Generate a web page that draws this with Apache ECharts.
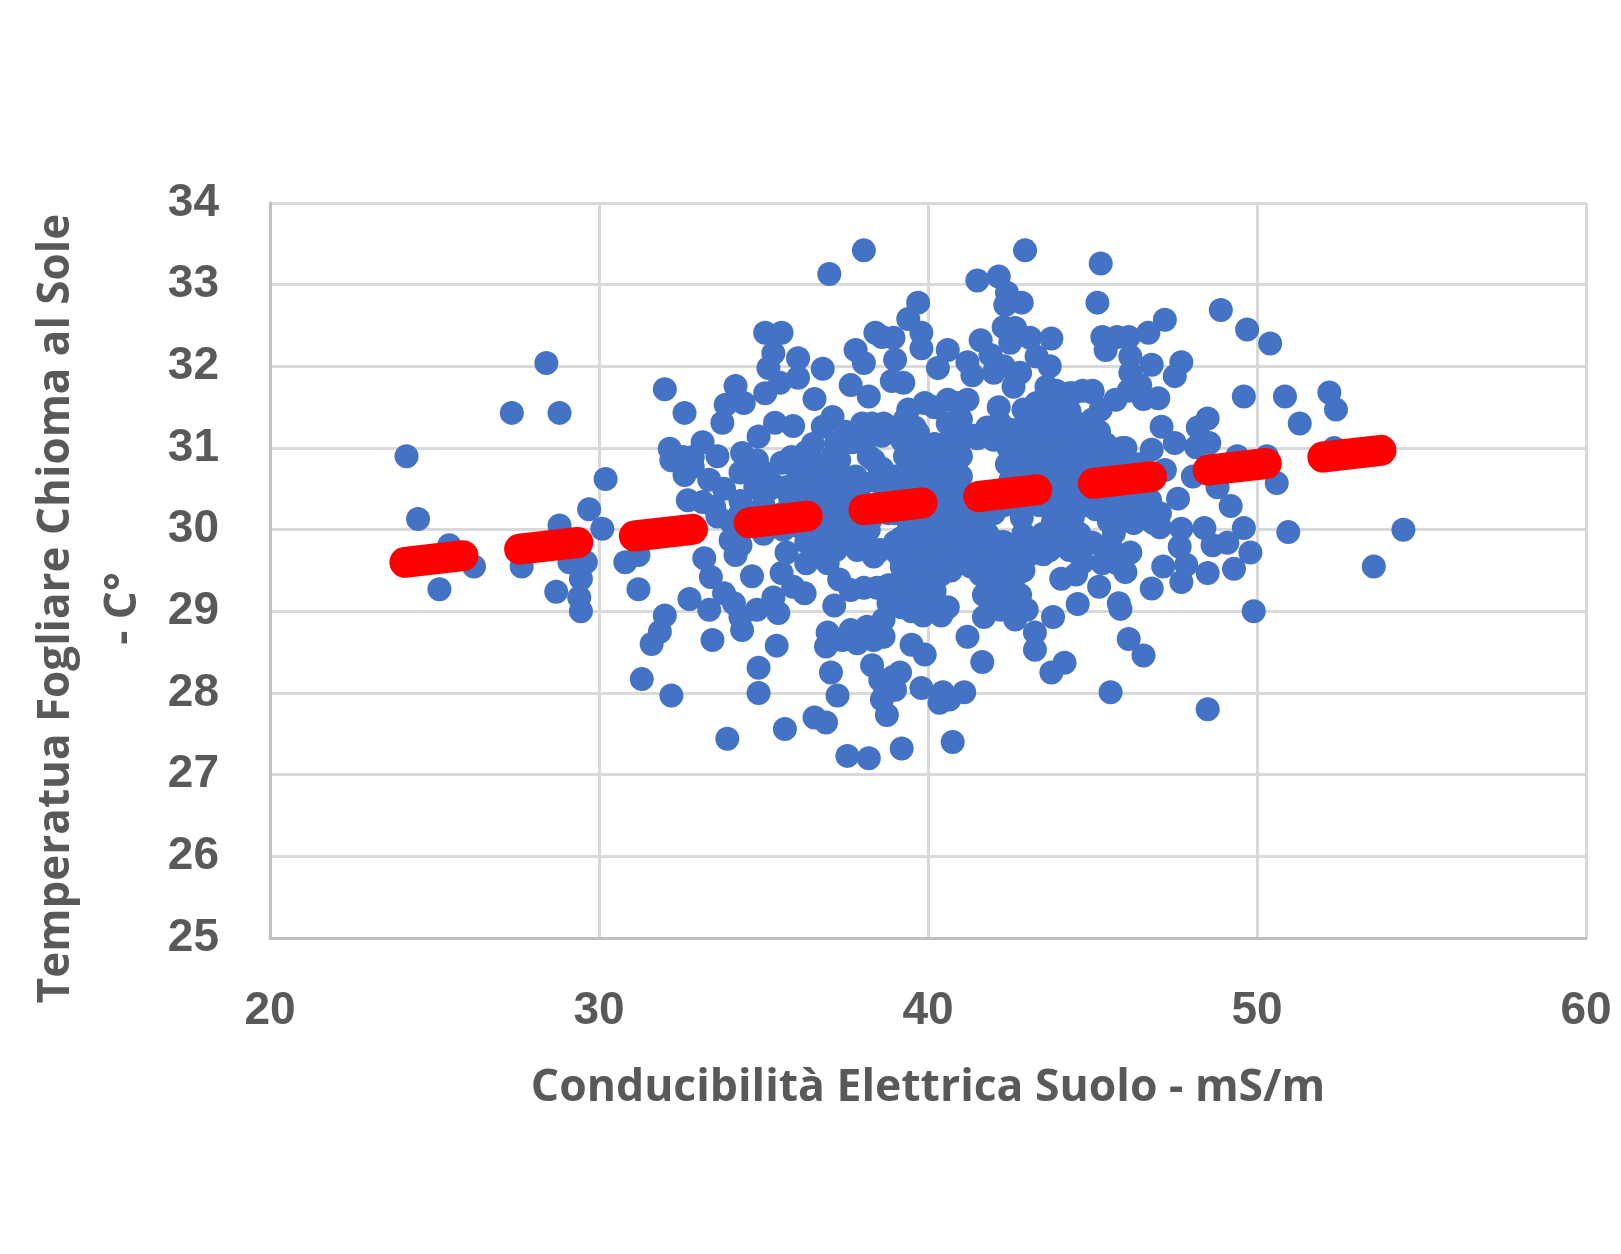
<!DOCTYPE html>
<html>
<head>
<meta charset="utf-8">
<style>html,body{margin:0;padding:0;background:#fff}#c{width:1621px;height:1254px}</style>
<script src="https://cdn.jsdelivr.net/npm/echarts@6/dist/echarts.min.js"></script>
</head>
<body>
<div id="c"></div>
<script>
const xTitle = 'Conducibilità Elettrica Suolo - mS/m';
const yTitle = 'Temperatua Fogliare Chioma al Sole\n- C°';
const trendX = [24.1, 53.95];
const trendY = [29.6, 30.98];

const leftPoints = [[24.15,30.9],[24.5,30.13],[25.45,29.81],[26.2,29.55],[25.15,29.27],[27.35,31.43],[28.4,32.04],[28.8,31.43],[27.65,29.55],[28.8,30.05],[29.7,30.25],[30.1,30.01],[30.2,30.62],[29.1,29.6],[29.6,29.6],[29.45,29.4],[28.7,29.24],[29.4,29.17],[29.45,29.0],[30.8,29.6],[31.2,29.69],[31.2,29.27]];

const upperLeftPoints = [[32.0,31.72],[32.6,31.43],[35.05,32.41],[35.55,32.41],[35.3,32.16],[35.15,31.98],[36.05,32.1],[36.05,31.86],[36.8,31.97],[35.05,31.67],[35.5,31.8],[36.55,31.6],[37.1,31.38],[36.8,31.26],[35.35,31.31],[35.9,31.27],[34.85,31.14],[34.15,31.76],[34.4,31.55],[33.85,31.53],[33.75,31.31],[33.15,31.07],[32.15,30.99],[33.6,30.9],[32.2,30.85],[32.55,30.89],[32.85,30.89],[32.6,30.67],[32.85,30.77],[33.35,30.61],[32.7,30.36],[33.15,30.34],[33.5,30.28],[33.6,30.16],[34.35,30.94],[34.3,30.7],[34.8,30.85],[34.75,30.52],[35.55,30.82],[35.85,30.89],[35.7,30.52],[36.05,30.52],[36.55,30.82],[37.1,30.89],[37.7,31.07],[37.8,32.2],[38.05,32.04],[37.65,31.77],[38.2,31.63],[38.4,32.41],[38.6,32.36],[38.65,31.3],[37.0,33.13],[38.05,33.42]];

const upperMiddlePoints = [[42.95,33.42],[45.25,33.26],[45.15,32.78],[41.5,33.05],[42.15,33.1],[42.4,32.9],[42.85,32.78],[42.35,32.75],[39.7,32.78],[39.4,32.58],[39.8,32.41],[39.8,32.22],[40.6,32.2],[40.3,31.98],[41.6,32.32],[41.9,32.14],[41.2,32.05],[41.35,31.89],[42.3,32.48],[42.65,32.47],[42.5,32.29],[43.1,32.35],[43.75,32.34],[43.3,32.12],[43.7,32.0],[42.3,32.0],[42.8,31.92],[42.6,31.75],[42.0,31.92],[43.6,31.75],[44.4,31.67],[45.0,31.68],[42.15,31.5],[42.9,31.47],[42.55,31.22],[42.45,31.0],[38.95,32.35],[39.0,32.08],[39.25,31.8],[38.9,31.82],[39.4,31.47],[39.7,31.18],[40.6,31.59],[41.2,31.59],[40.75,31.26],[41.5,31.12],[40.75,30.94],[39.55,30.89],[43.9,31.26],[44.3,31.06],[45.15,31.14],[43.5,31.06],[42.9,30.89],[45.9,31.0],[43.9,31.7],[44.7,31.7]];

const upperRightPoints = [[47.2,32.57],[48.9,32.69],[49.7,32.45],[50.4,32.28],[45.3,32.36],[45.75,32.36],[46.1,32.36],[46.7,32.41],[45.4,32.2],[46.15,32.12],[46.8,32.02],[47.7,32.05],[47.5,31.88],[46.15,31.92],[46.45,31.77],[46.1,31.7],[47.0,31.61],[46.55,31.6],[45.7,31.59],[45.25,31.47],[44.3,31.67],[45.0,31.7],[49.6,31.63],[50.85,31.63],[51.3,31.3],[52.2,31.68],[52.4,31.47],[52.35,31.0],[48.5,31.36],[47.1,31.26],[47.5,31.06],[48.2,31.25],[48.55,31.06],[48.15,31.01],[48.05,30.65],[49.4,30.9],[50.3,30.9],[50.6,30.57],[48.8,30.52],[49.2,30.29],[46.0,31.0],[46.8,30.98],[47.2,30.73],[47.6,30.38],[50.95,29.97],[49.6,30.02],[48.4,30.02],[47.7,30.01],[47.05,30.03],[46.35,30.24],[45.95,30.33],[46.75,30.36],[47.05,30.2],[44.4,31.34],[44.9,31.26],[45.2,31.2]];

const lowerRightPoints = [[49.8,29.72],[49.1,29.84],[48.65,29.81],[49.3,29.52],[48.5,29.47],[47.65,29.79],[47.7,29.36],[47.15,29.55],[47.85,29.57],[46.8,29.28],[49.9,29.0],[45.8,29.1],[45.85,29.03],[46.1,28.66],[46.55,28.46],[45.55,28.01],[48.5,27.8],[46.15,29.72],[46.0,29.48],[45.65,29.96],[46.25,30.08],[46.85,30.08],[45.2,29.3],[45.3,29.59],[45.75,29.59],[45.0,29.84],[45.55,29.79],[53.55,29.55],[54.45,30.0],[44.05,29.4],[44.55,29.09]];

const lowerMiddlePoints = [[43.25,28.53],[43.25,28.74],[43.8,28.93],[42.65,28.9],[43.0,29.02],[41.7,28.93],[42.2,29.02],[42.5,29.14],[41.2,28.69],[41.65,28.38],[43.75,28.25],[44.15,28.37],[39.9,28.47],[39.5,28.59],[39.8,28.06],[40.45,28.01],[41.1,28.01],[40.35,27.88],[40.65,27.92],[38.95,28.2],[39.15,28.25],[38.6,27.92],[39.0,28.04],[40.75,27.4],[39.2,27.32]];

const lowerLeftPoints = [[33.9,27.44],[32.2,27.97],[35.65,27.56],[34.85,28.31],[34.85,28.0],[35.4,28.58],[33.45,28.65],[32.0,28.95],[31.85,28.75],[31.6,28.6],[31.3,28.17],[36.55,27.7],[36.9,27.64],[37.55,27.23],[38.2,27.2],[37.05,28.25],[37.25,27.97],[38.3,28.34],[38.55,28.16],[38.7,28.0],[38.75,27.73],[37.15,29.07],[36.95,28.74],[36.9,28.57],[37.4,28.65],[37.85,28.61],[38.35,28.65],[38.65,28.69],[37.65,28.77],[38.15,28.81],[38.65,28.9],[32.75,29.15],[33.2,29.65],[33.4,29.42],[33.8,29.22],[33.35,29.02],[34.1,29.1],[34.35,28.77],[34.3,28.93],[34.8,29.02],[35.3,29.17],[35.45,28.98],[34.65,29.43],[34.15,29.69],[34.3,29.81],[34.0,29.87],[35.55,29.47],[35.9,29.3],[36.25,29.22],[35.7,29.72],[36.3,29.59],[36.6,29.79],[37.65,29.26],[38.05,29.29],[38.45,29.29],[37.3,29.39],[36.95,29.59],[37.2,29.75],[37.85,29.75],[38.55,29.75],[38.35,29.67],[38.8,29.32],[38.8,29.1]];

const cloudPoints = [[37.5,31.2],[38.3,31.3],[38.9,31.25],[39.3,31.35],[40.6,31.3],[41.0,31.35],[42.2,31.3],[43.0,31.35],[43.6,31.4],[44.1,31.3],[45.0,31.35],
[37.2,31.05],[38.1,31.1],[38.6,31.15],[39.2,31.1],[39.7,31.0],[40.5,31.05],[41.0,31.1],[41.4,31.15],[42.0,31.1],[42.9,31.1],[43.4,31.15],[44.0,31.1],[44.7,31.1],[45.4,31.05],
[36.3,30.95],[36.9,30.7],[37.3,30.85],[38.2,30.9],[39.3,30.9],[39.7,30.75],[40.3,30.85],[40.85,30.75],[42.7,30.9],[43.2,30.85],[43.8,30.9],[44.2,30.8],[44.8,30.9],[45.4,30.85],[45.9,30.8],
[36.4,30.7],[37.8,30.65],[38.4,30.6],[39.0,30.65],[40.2,30.6],[40.7,30.55],[42.5,30.6],[43.1,30.6],[43.7,30.7],[44.3,30.55],[44.8,30.7],[45.3,30.6],[45.9,30.6],[46.4,30.8],[46.5,30.5],
[35.0,30.3],[35.8,30.4],[36.4,30.3],[37.0,30.35],[37.6,30.4],[38.1,30.3],[38.7,30.4],[39.2,30.35],[39.8,30.4],[40.3,30.3],[40.8,30.35],[41.3,30.4],[41.8,30.25],[42.5,30.4],[43.0,30.35],[43.6,30.3],[44.2,30.4],[44.8,30.3],[45.3,30.35],[45.9,30.2],
[34.0,30.1],[34.6,30.15],[35.3,30.1],[36.0,30.05],[36.6,30.1],[37.1,30.15],[37.7,30.1],[38.3,30.15],[38.8,30.2],[39.4,30.1],[40.0,30.15],[40.5,30.05],[41.0,30.15],[41.6,30.05],[42.0,30.2],[42.85,30.15],[43.8,30.1],[44.4,30.15],[45.5,30.1],[44.6,29.95],
[36.9,29.9],[37.4,29.95],[38.0,29.9],[39.2,29.9],[39.7,29.85],[40.3,29.9],[40.9,29.85],[41.5,29.9],[42.1,29.85],[42.7,29.8],[43.3,29.85],[43.9,29.9],[44.5,29.8],
[39.1,29.7],[39.6,29.65],[40.2,29.7],[40.7,29.65],[41.2,29.7],[41.8,29.65],[42.3,29.7],[42.9,29.65],[43.5,29.7],[44.7,29.6],
[39.4,29.45],[39.9,29.4],[40.4,29.45],[41.6,29.45],[42.2,29.4],[42.7,29.45],[44.5,29.45],
[39.3,29.2],[39.8,29.15],[40.2,29.25],[41.7,29.2],[42.3,29.25],[42.8,29.2],[39.5,29.0],[40.1,29.0],[40.4,28.95]];

const denseCorePoints = [[40.2,31.5],[40.9,31.55],[43.3,31.55],[43.9,31.5],[44.3,31.45],[39.9,31.55],
[38.0,31.3],[39.6,31.25],[41.8,31.25],[43.3,31.3],[43.8,31.2],[44.5,31.2],
[36.5,31.05],[38.35,30.85],[39.95,30.9],[40.2,31.05],[41.0,30.9],[42.6,30.75],[43.5,30.95],[44.5,30.95],[45.1,30.95],[45.6,30.95],
[35.3,30.55],[35.0,30.7],[36.0,30.75],[36.7,30.5],[37.3,30.6],[37.9,30.5],[38.6,30.75],[39.4,30.7],[40.0,30.7],[40.5,30.75],[41.0,30.65],[42.4,30.8],[42.9,30.7],[43.4,30.7],[44.0,30.65],[44.5,30.75],[45.1,30.75],[45.6,30.7],[46.1,30.7],
[33.8,30.5],[34.3,30.35],[35.2,30.5],[36.2,30.45],[37.3,30.5],[38.9,30.5],[39.5,30.5],[40.0,30.5],[40.5,30.45],[41.0,30.45],[42.3,30.45],[42.8,30.5],[43.4,30.45],[43.9,30.5],[44.6,30.5],[45.1,30.5],[45.6,30.45],[46.2,30.4],
[34.3,30.2],[34.9,30.05],[35.6,30.2],[36.2,30.2],[36.8,30.25],[37.4,30.25],[37.9,30.2],[38.5,30.3],[39.0,30.2],[39.6,30.25],[40.1,30.25],[40.6,30.2],[41.1,30.25],[41.5,30.25],[42.3,30.3],[42.9,30.3],[43.4,30.3],[44.0,30.25],[44.5,30.25],[45.1,30.25],[45.6,30.25],
[35.0,29.95],[35.6,30.0],[36.3,29.85],[37.0,30.0],[37.6,29.9],[38.2,30.0],[39.5,30.0],[40.1,30.0],[40.6,29.95],[41.2,30.0],[41.8,29.95],[42.3,29.85],[42.9,29.95],[43.5,29.95],[44.1,30.0],
[39.0,29.85],[39.4,29.8],[39.9,29.75],[40.5,29.75],[41.0,29.75],[41.5,29.75],[42.0,29.75],[42.5,29.6],[43.1,29.7],[43.7,29.75],[44.3,29.75],
[39.2,29.55],[39.7,29.5],[40.2,29.5],[40.7,29.5],[41.3,29.55],[41.9,29.5],[42.4,29.5],[42.9,29.5],
[39.1,29.35],[39.6,29.3],[40.1,29.35],[41.9,29.3],[42.5,29.3],[39.2,29.05],[39.85,28.95],[40.6,29.05],[42.0,29.1]];

const points = [].concat(leftPoints, upperLeftPoints, upperMiddlePoints, upperRightPoints, lowerRightPoints, lowerMiddlePoints, lowerLeftPoints, cloudPoints, denseCorePoints);

const textColor = '#595959';
const chart = echarts.init(document.getElementById('c'), null, {renderer:'canvas'});
chart.setOption({
  animation:false,
  backgroundColor:'#fff',
  grid:{left:270,right:35,top:203,height:735,containLabel:false},
  xAxis:{type:'value',min:20,max:60,interval:10,
    name:xTitle,nameLocation:'middle',nameGap:128,
    nameTextStyle:{fontFamily:'Open Sans',fontWeight:'bold',fontSize:44.5,color:textColor},
    axisLine:{show:true,onZero:false,lineStyle:{color:'#BFBFBF',width:3}},
    axisTick:{show:false},
    axisLabel:{margin:50,fontFamily:'Liberation Sans',fontWeight:'bold',fontSize:46,color:textColor},
    splitLine:{show:true,lineStyle:{color:'#D9D9D9',width:3}}},
  yAxis:{type:'value',min:25,max:34,interval:1,
    name:yTitle,nameLocation:'middle',nameGap:106,
    nameTextStyle:{fontFamily:'Open Sans',fontWeight:'bold',fontSize:44,lineHeight:67,color:textColor,padding:[0,76,0,0]},
    axisLine:{show:true,onZero:false,lineStyle:{color:'#BFBFBF',width:3}},
    axisTick:{show:false},
    axisLabel:{margin:51,padding:[4,0,0,0],fontFamily:'Liberation Sans',fontWeight:'bold',fontSize:46,color:textColor},
    splitLine:{show:true,lineStyle:{color:'#D9D9D9',width:3}}},
  series:[
    {type:'scatter',data:points,symbol:'circle',symbolSize:24,itemStyle:{color:'#4472C4',opacity:1},z:3},
    {type:'line',data:trendX.map((x,i)=>[x,trendY[i]]),symbol:'none',silent:true,z:4,
      lineStyle:{color:'#FF0000',width:31,type:[58.5,57],cap:'round'}}
  ]
});
</script>
</body>
</html>
